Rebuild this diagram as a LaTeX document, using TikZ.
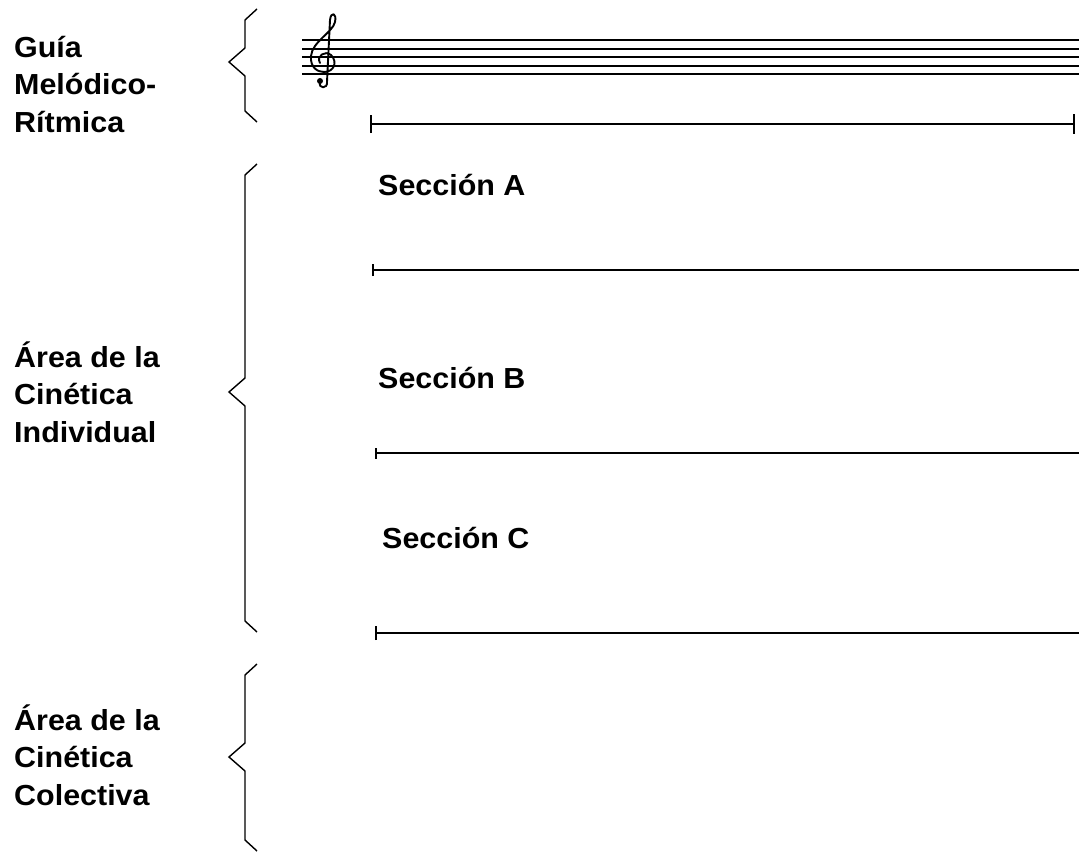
\documentclass[tikz,border=0pt]{standalone}
\usepackage{fontspec}
\newfontfamily\lblfont[FakeStretch=1.05]{Liberation Sans}
\usetikzlibrary{arrows.meta}
\tikzset{
  lbl/.style={font=\lblfont\bfseries\fontsize{29pt}{37.5pt}\selectfont,align=left,
    anchor=base west,inner sep=0pt},
  curly/.style={line width=1.4pt,line join=miter},
  staffline/.style={line width=2pt},
  secline/.style={line width=2pt},
  clef/.style={line width=1.9pt,line join=round,line cap=round},
}
% zig-zag brace: {top}{middle point}{bottom}
\newcommand{\zigbrace}[3]{%
  \draw[curly] (257,#1) -- (245,#1+11) -- (245,#2-14) -- (229,#2)
    -- (245,#2+14) -- (245,#3-11) -- (257,#3);
}
\begin{document}
\begin{tikzpicture}[x=1pt,y=-1pt]
\useasboundingbox (0,0) rectangle (1079,852);

% ================= LEFT LABELS (placed at last baseline) =================
\node[lbl] (lblGuia) at (14,132) {Guía\\Melódico-\\Rítmica};
\node[lbl] (lblIndiv) at (14,442) {Área de la\\Cinética\\Individual};
\node[lbl] (lblColect) at (14,805) {Área de la\\Cinética\\Colectiva};

\zigbrace{9}{62}{122}
\zigbrace{164}{392}{632}
\zigbrace{664}{757}{851}

% ================= STAFF =================
\foreach \y in {40,48.5,57,65.5,74}
  \draw[staffline] (302,\y) -- (1079,\y);
\draw[clef] (320,82) .. controls (318,89) and (328,89) .. (327,82)
  -- (330,20)
  .. controls (331,11) and (337,13) .. (335,22)
  .. controls (333,32) and (312,42) .. (311,56)
  .. controls (310,68) and (318,72) .. (324,72)
  .. controls (334,72) and (338,62) .. (331,55)
  .. controls (325,50) and (316,56) .. (320,63);
\fill (320,81) circle (3);
\draw[secline,{Bar[width=18pt]}-{Bar[width=20pt]}] (370,124) -- (1075,124);

% ================= SECTIONS =================
\node[lbl] (secA) at (378,195) {Sección A};
\draw[secline,{Bar[width=12pt]}-] (372,270) -- (1079,270);
\node[lbl] (secB) at (378,388) {Sección B};
\draw[secline,{Bar[width=11pt]}-] (375,453) -- (1079,453);
\node[lbl] (secC) at (382,548) {Sección C};
\draw[secline,{Bar[width=14pt]}-] (375,633) -- (1079,633);

\end{tikzpicture}
\end{document}
